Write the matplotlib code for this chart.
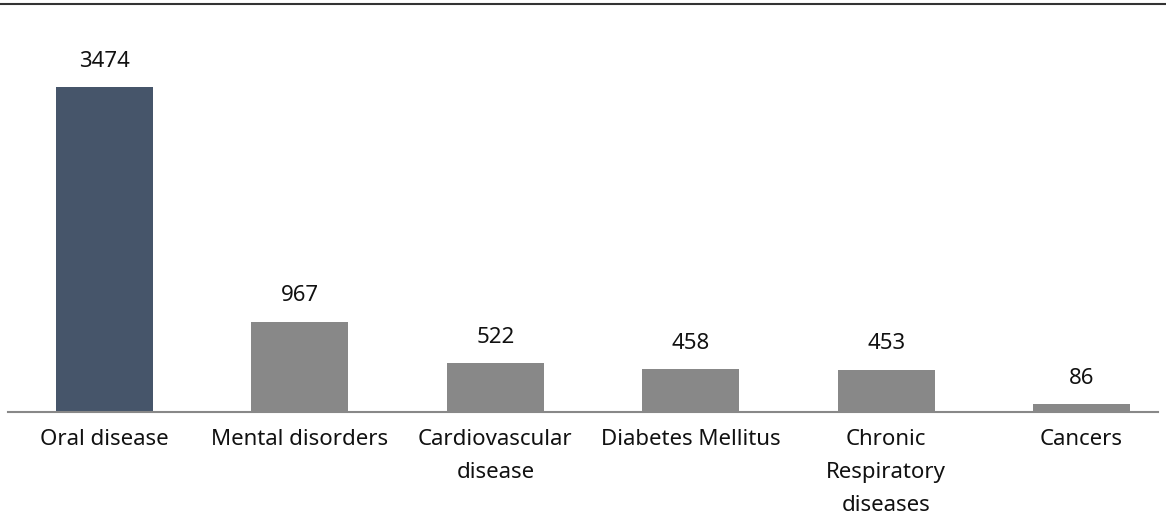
import matplotlib.pyplot as plt
from matplotlib.lines import Line2D

categories = ['Oral disease', 'Mental disorders', 'Cardiovascular\ndisease',
              'Diabetes Mellitus', 'Chronic\nRespiratory\ndiseases', 'Cancers']
values = [3474, 967, 522, 458, 453, 86]
colors = ['#46556a', '#888888', '#888888', '#888888', '#888888', '#888888']

plt.rcParams['font.family'] = ['Noto Sans', 'DejaVu Sans']

fig = plt.figure(figsize=(11.66, 5.16), dpi=100)
ax = fig.add_axes([8 / 1166, 104 / 516, 1150 / 1166, 408 / 516])

x = list(range(len(values)))
ax.bar(x, values, width=0.496, color=colors)
for xi, v in zip(x, values):
    ax.annotate(str(v), (xi, v), xytext=(0, 11), textcoords='offset points',
                ha='center', va='bottom', fontsize=16, color='#111111')

ax.set_xlim(-0.494, 5.391)
ax.set_ylim(0, 4361)
ax.set_xticks(x)
ax.set_xticklabels(categories, fontsize=16, color='#111111', linespacing=1.75,
                   va='top')
ax.tick_params(axis='x', length=0, pad=12)
ax.set_yticks([])
for s in ['top', 'left', 'right']:
    ax.spines[s].set_visible(False)
ax.spines['bottom'].set_color('#888888')
ax.spines['bottom'].set_linewidth(1.5)

fig.add_artist(Line2D([0, 1], [1 - 4 / 516, 1 - 4 / 516], color='#333333',
                      linewidth=1.5, transform=fig.transFigure))

fig.savefig('out.png', dpi=100)
